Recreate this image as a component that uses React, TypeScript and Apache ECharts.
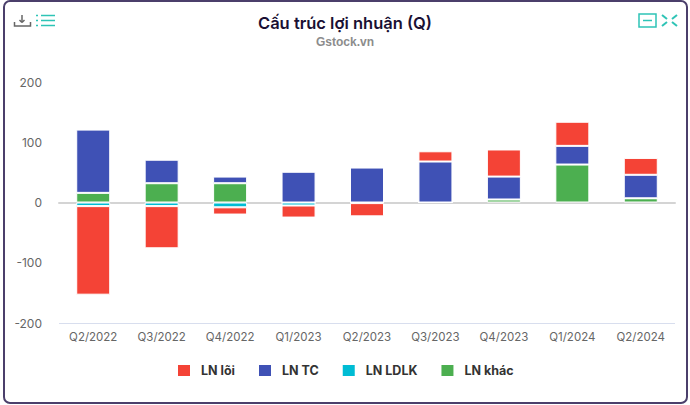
import React, { useEffect, useRef } from "react";
import * as echarts from "echarts";

const categories = ["Q2/2022", "Q3/2022", "Q4/2022", "Q1/2023", "Q2/2023", "Q3/2023", "Q4/2023", "Q1/2024", "Q2/2024"];
const lnLoi = [-147, -70, -12, -20, -22, 17, 45, 40, 28];
const lnTc = [105, 39, 11, 51, 58, 68, 38, 31, 39];
const lnLdlk = [-6, -6, -8, -5, -1, 0, 0, 0, 0];
const lnKhac = [16, 32, 32, 0, 0, 0, 5, 63, 7];
const legendOrder = ["LN lõi", "LN TC", "LN LDLK", "LN khác"];
const yTicks = { min: -200, max: 200, interval: 100 };

const teal = "#2ec4b6";
const grey = "#666666";

function line(x1: number, y1: number, x2: number, y2: number, stroke: string, lineWidth = 1.5) {
  return { type: "line", silent: true, shape: { x1, y1, x2, y2 }, style: { stroke, lineWidth } };
}

export default function App() {
  const ref = useRef<HTMLDivElement>(null);
  useEffect(() => {
    document.body.style.margin = "0";
    const chart = echarts.init(ref.current!, undefined, { renderer: "svg" });
    const bar = (name: string, data: number[], color: string) => ({
      name,
      type: "bar",
      stack: "total",
      data,
      barWidth: 34,
      itemStyle: { color, borderColor: "#ffffff", borderWidth: 1 },
    });
    chart.setOption({
      animation: false,
      backgroundColor: "#ffffff",
      textStyle: { fontFamily: "Inter" },
      title: {
        text: "Cấu trúc lợi nhuận (Q)",
        subtext: "Gstock.vn",
        left: 340,
        top: 9,
        textAlign: "center",
        itemGap: 5,
        textStyle: { fontFamily: "Inter", fontSize: 16.5, fontWeight: 600, color: "#1a1033" },
        subtextStyle: { fontFamily: "Liberation Sans", fontSize: 12, fontWeight: "bold", color: "#8c8c8c" },
      },
      legend: {
        data: legendOrder,
        left: 171,
        top: 358,
        itemWidth: 14,
        itemHeight: 13,
        itemGap: 22,
        icon: "rect",
        textStyle: { fontFamily: "Inter", fontSize: 12.5, fontWeight: "bold", color: "#333333", padding: [0, 0, 0, 5] },
      },
      grid: { left: 59, right: 15, top: 82, bottom: 82 },
      xAxis: {
        type: "category",
        data: categories,
        position: "bottom",
        axisLine: { onZero: true, lineStyle: { color: "#d4d4d4", width: 2 } },
        axisTick: { show: false },
        axisLabel: { color: grey, fontSize: 11.5, margin: 8, interval: 0 },
      },
      yAxis: {
        type: "value",
        min: yTicks.min,
        max: yTicks.max,
        interval: yTicks.interval,
        axisLine: { show: false },
        axisTick: { show: false },
        axisLabel: { color: grey, fontSize: 12, margin: 17 },
        splitLine: {
          show: true,
          lineStyle: {
            color: ["#d8deee", "transparent", "transparent", "transparent", "transparent"],
          },
        },
      },
      series: [
        bar("LN khác", lnKhac, "#4caf50"),
        bar("LN LDLK", lnLdlk, "#00bcd4"),
        bar("LN TC", lnTc, "#3f51b5"),
        bar("LN lõi", lnLoi, "#f44336"),
      ],
      graphic: [
        { type: "rect", silent: true, z: 100, shape: { x: 4, y: 1, width: 683, height: 402, r: 6 }, style: { fill: "none", stroke: "#4b3f6b", lineWidth: 2 } },
        line(22, 15, 22, 22, grey),
        line(19.5, 20, 22, 22.5, grey),
        line(24.5, 20, 22, 22.5, grey),
        { type: "polyline", silent: true, shape: { points: [[14.5, 22], [14.5, 26], [30.5, 26], [30.5, 22]] }, style: { fill: "none", stroke: grey, lineWidth: 1.5 } },
        line(36, 15.5, 38, 15.5, teal),
        line(36, 20.5, 38, 20.5, teal),
        line(36, 25.5, 38, 25.5, teal),
        line(41, 15.5, 55, 15.5, teal),
        line(41, 20.5, 55, 20.5, teal),
        line(41, 25.5, 55, 25.5, teal),
        { type: "rect", silent: true, shape: { x: 639, y: 14, width: 17, height: 13 }, style: { fill: "none", stroke: teal, lineWidth: 1.5 } },
        line(643, 20.5, 652, 20.5, teal),
        line(662, 15, 667, 19, teal, 2),
        line(677, 15, 672, 19, teal, 2),
        line(662, 26, 667, 22, teal, 2),
        line(677, 26, 672, 22, teal, 2),
      ],
    });
    return () => chart.dispose();
  }, []);
  return <div ref={ref} style={{ width: 690, height: 405 }} />;
}
